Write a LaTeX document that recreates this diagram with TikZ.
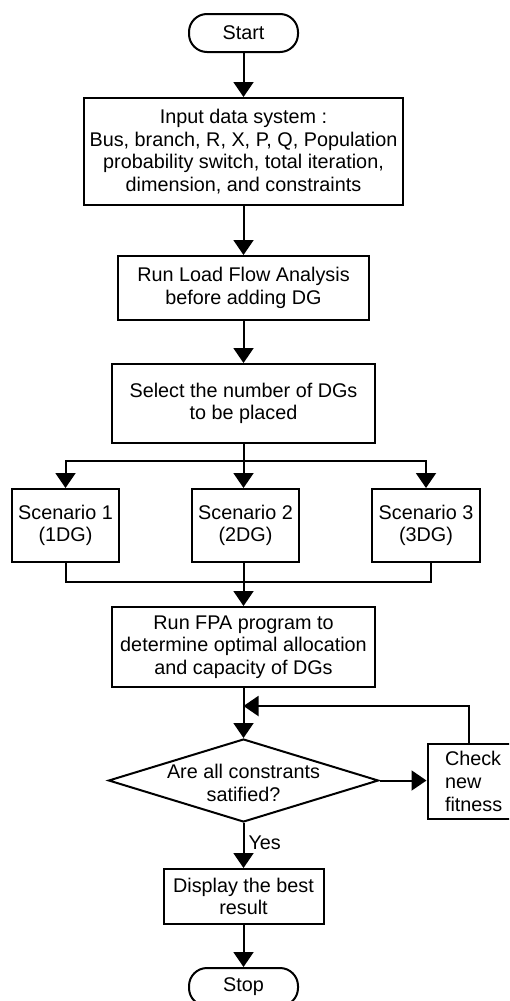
\documentclass[tikz,border=0pt]{standalone}
\usepackage{fontspec}
\setmainfont{Liberation Sans}
\usetikzlibrary{arrows.meta,shapes.geometric,calc}
\begin{document}
\begin{tikzpicture}[x=1pt,y=-1pt,
  every node/.style={font=\fontsize{19.8}{22.7}\selectfont, line width=2pt},
  box/.style={draw, rectangle, align=center, inner sep=0pt},
  term/.style={draw, rectangle, rounded corners=18pt, minimum width=109pt, minimum height=38pt, inner sep=0pt},
  line/.style={line width=2pt},
  arr/.style={line, -{Triangle[width=20pt,length=15pt]}}
]
\useasboundingbox (0,0) rectangle (509,1001);
\clip (0,0) rectangle (509,1001);

% process steps
\node[term] (start) at (243.5,33) {Start};
\node[box, minimum width=319pt, minimum height=107pt] (inp) at (243.5,151.5)
  {Input data system :\\Bus, branch, R, X, P, Q, Population\\probability switch, total iteration,\\dimension, and constraints};
\node[box, minimum width=251pt, minimum height=64pt] (lf) at (243.5,288)
  {Run Load Flow Analysis\\before adding DG};
\node[box, minimum width=263pt, minimum height=79pt] (sel) at (243.5,403.5)
  {Select the number of DGs\\to be placed};
\node[box, minimum width=107pt, minimum height=73pt] (s1) at (65.5,525.5) {Scenario 1\\(1DG)};
\node[box, minimum width=107pt, minimum height=73pt] (s2) at (245.5,525.5) {Scenario 2\\(2DG)};
\node[box, minimum width=108pt, minimum height=73pt] (s3) at (426,525.5) {Scenario 3\\(3DG)};
\node[box, minimum width=263pt, minimum height=80pt] (fpa) at (243.5,647)
  {Run FPA program to\\determine optimal allocation\\and capacity of DGs};
\node[draw, diamond, minimum width=270pt, minimum height=83pt, inner sep=0pt] (dec) at (243.5,780.5) {};
\node[align=center, inner sep=0pt] (dectext) at (243.5,783) {Are all constrants\\satified?};
\node[draw, rectangle, align=left, text width=65pt, inner xsep=17.5pt, inner ysep=0pt,
      minimum width=100pt, minimum height=75pt] (chk) at (477.5,781.5) {Check\\new\\fitness};
\node[box, minimum width=160pt, minimum height=55pt] (disp) at (243.5,896.5)
  {Display the best\\result};
\node[term] (stop) at (243.5,987) {Stop};

% junction points
\coordinate (split) at (243.5,461);
\coordinate (merge) at (243.5,582);
\coordinate (fb) at (243.5,706);

% connectors
\draw[arr] (start) -- (inp);
\draw[arr] (inp) -- (lf);
\draw[arr] (lf) -- (sel);
\draw[line] (sel.south) -- (split);
\draw[arr] (split) -| (s1.north);
\draw[arr] (split) -- (split |- s2.north);
\draw[arr] (split) -| (s3.north);
\draw[line] (s1.south) |- (merge);
\draw[line] ([xshift=5pt]s3.south) |- (merge);
\draw[line] (merge |- s2.south) -- (merge);
\draw[arr] (merge) -- (fpa.north);
\draw[arr] (fpa) -- (dec.north);
\draw[arr] ([xshift=-8.5pt]chk.north) |- (fb);
\draw[arr] (dec.east) -- (dec.east -| chk.west);
\draw[arr] (dec.south) -- node[pos=0.43, right, inner sep=4pt] (yes) {Yes} (disp.north);
\draw[arr] (disp) -- (stop);
\end{tikzpicture}
\end{document}
